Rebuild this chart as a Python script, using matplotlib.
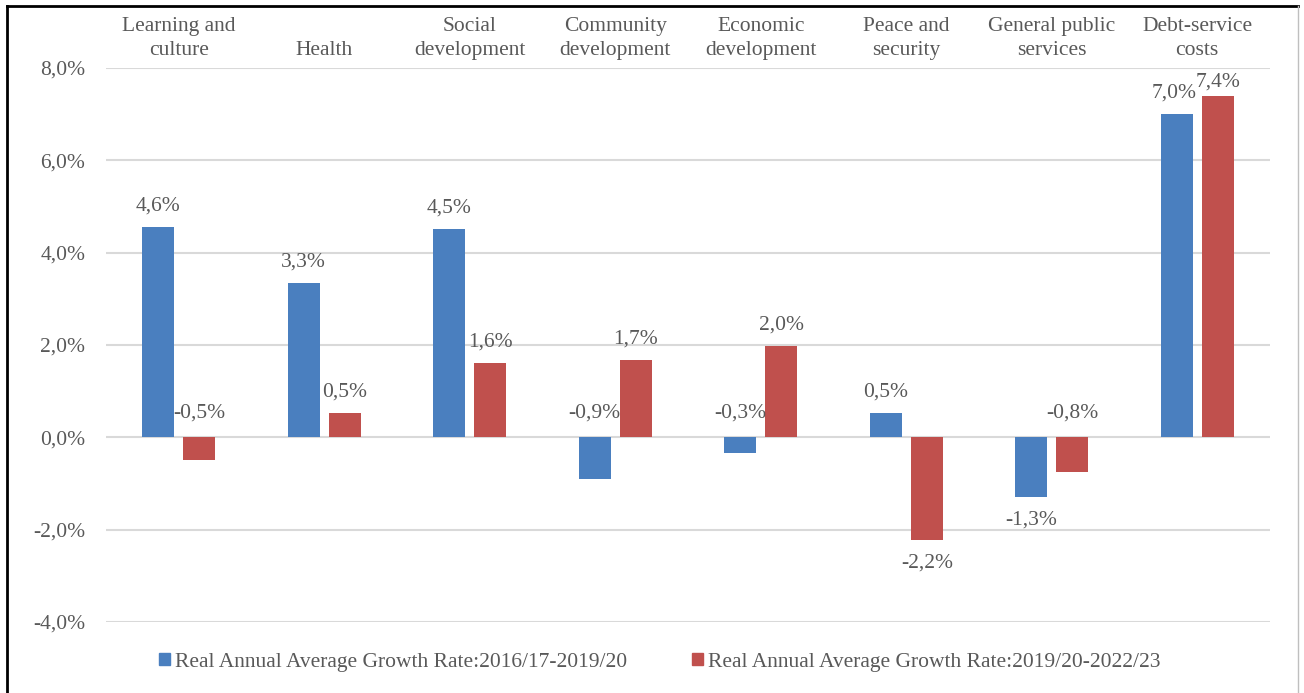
import matplotlib.pyplot as plt
import numpy as np
from matplotlib.lines import Line2D
from matplotlib.patches import Patch

categories = [
    "Learning and\nculture",
    "Health",
    "Social\ndevelopment",
    "Community\ndevelopment",
    "Economic\ndevelopment",
    "Peace and\nsecurity",
    "General public\nservices",
    "Debt-service\ncosts",
]
growth_2016_2020 = [4.56, 3.34, 4.51, -0.91, -0.33, 0.52, -1.30, 7.00]
growth_2020_2023 = [-0.50, 0.52, 1.60, 1.67, 1.97, -2.23, -0.76, 7.40]
series_names = [
    "Real Annual Average Growth Rate:2016/17-2019/20",
    "Real Annual Average Growth Rate:2019/20-2022/23",
]
y_ticks = [-4, -2, 0, 2, 4, 6, 8]

BLUE = "#4A7FBF"
RED = "#C0504D"
TEXT = "#595959"
GRID = "#D9D9D9"

plt.rcParams["font.family"] = ["Liberation Serif", "DejaVu Serif"]
plt.rcParams["font.size"] = 15.5

fig = plt.figure(figsize=(13.04, 6.93), dpi=100)
ax = fig.add_axes([106 / 1304, 71 / 693, 1164 / 1304, 554 / 693])

x = np.arange(len(categories))
offset = 0.142
width = 0.22
ax.bar(x - offset, growth_2016_2020, width, color=BLUE, zorder=3)
ax.bar(x + offset, growth_2020_2023, width, color=RED, zorder=3)


def fmt(v):
    return f"{v:.1f}".replace(".", ",") + "%"


def label_bars(xs, values):
    for xi, v in zip(xs, values):
        if v >= 0:
            gap = 0.1 if v > 7.2 else 0.25
            ax.text(xi, v + gap, fmt(v), ha="center", va="bottom", color=TEXT)
        elif v > -1:
            ax.text(xi, 0.33, fmt(v), ha="center", va="bottom", color=TEXT)
        else:
            ax.text(xi, v - 0.28, fmt(v), ha="center", va="top", color=TEXT)


label_bars(x - offset - 0.02 * (x == 7), growth_2016_2020)
label_bars(x + offset, growth_2020_2023)

ax.set_xlim(-0.5, len(categories) - 0.5)
ax.set_ylim(-4, 8)
ax.set_yticks(y_ticks)
ax.set_yticklabels([fmt(t) for t in y_ticks], color=TEXT)
ax.yaxis.grid(True, color=GRID, linewidth=1.5, zorder=0)
ax.set_axisbelow(True)
ax.tick_params(axis="y", length=0, pad=15)

ax.xaxis.tick_top()
ax.set_xticks(x)
ax.set_xticklabels(categories, color=TEXT, linespacing=1.32)
ax.tick_params(axis="x", length=0, pad=6)
for spine in ax.spines.values():
    spine.set_visible(False)

handles = [Patch(color=BLUE), Patch(color=RED)]
fig.legend(
    handles,
    series_names,
    loc="center",
    bbox_to_anchor=(660 / 1304, 1 - 662 / 693),
    ncol=2,
    frameon=False,
    handlelength=0.5,
    handleheight=0.5,
    handletextpad=0.25,
    columnspacing=3.0,
    labelcolor=TEXT,
)

# outer frame
fig.add_artist(Line2D([7 / 1304, 7 / 1304], [0, 1 - 6 / 693], color="black", linewidth=2))
fig.add_artist(Line2D([7 / 1304, 1298 / 1304], [1 - 6 / 693, 1 - 6 / 693], color="black", linewidth=2))
fig.add_artist(Line2D([1298 / 1304, 1298 / 1304], [0, 1 - 6 / 693], color="#BFBFBF", linewidth=1))

fig.savefig("out.png", dpi=100)
